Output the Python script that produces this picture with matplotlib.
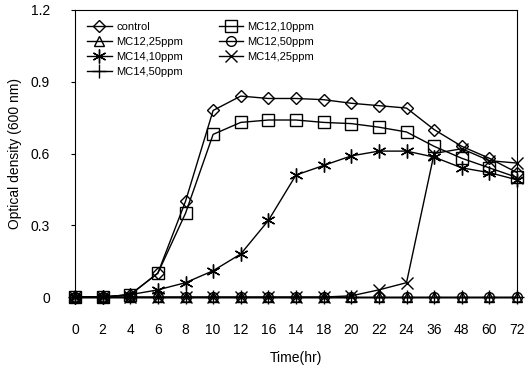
import matplotlib
matplotlib.use("Agg")
from matplotlib import pyplot as plt

plt.rcParams['font.family'] = ['Liberation Sans', 'DejaVu Sans']

# sampling times (hr) as printed on the axis (note the 16/14 order of the original)
time_labels = ['0', '2', '4', '6', '8', '10', '12', '16', '14', '18',
               '20', '22', '24', '36', '48', '60', '72']

control = [0.0, 0.0, 0.01, 0.10, 0.40, 0.78, 0.84, 0.83, 0.83, 0.825,
           0.81, 0.80, 0.79, 0.70, 0.63, 0.58, 0.52]
mc12_10 = [0.0, 0.0, 0.01, 0.10, 0.35, 0.68, 0.73, 0.74, 0.74, 0.73,
           0.725, 0.71, 0.69, 0.63, 0.58, 0.54, 0.50]
mc12_25 = [0.0] * 17
mc12_50 = [0.0] * 17
mc14_10 = [0.0, 0.0, 0.01, 0.03, 0.06, 0.11, 0.18, 0.32, 0.51, 0.55,
           0.59, 0.61, 0.61, 0.585, 0.54, 0.52, 0.49]
mc14_25 = [0.0, 0.0, 0.0, 0.0, 0.0, 0.0, 0.0, 0.0, 0.0, 0.0,
           0.005, 0.03, 0.06, 0.60, 0.62, 0.57, 0.56]
mc14_50 = [0.0] * 17

series = [
    ('control', control, 'D', 6),
    ('MC12,25ppm', mc12_25, '^', 7),
    ('MC14,10ppm', mc14_10, (6, 2, 0), 10),
    ('MC14,50ppm', mc14_50, '+', 10),
    ('MC12,10ppm', mc12_10, 's', 8),
    ('MC12,50ppm', mc12_50, 'o', 7),
    ('MC14,25ppm', mc14_25, 'x', 8),
]

fig = plt.figure(figsize=(5.3, 3.69), dpi=100)
ax = fig.add_axes([0.1415, 0.195, 0.834, 0.778])

x = list(range(len(time_labels)))
for label, vals, marker, ms in series:
    ax.plot(x, vals, color='black', linewidth=1.0, marker=marker,
            markersize=ms, markerfacecolor='none', markeredgecolor='black',
            markeredgewidth=1.0, label=label, clip_on=False)

ax.set_xlim(0, 16)
ax.set_ylim(0, 1.2)
ax.set_xticks(x)
ax.set_xticklabels(time_labels, fontsize=10)
ax.set_yticks([0, 0.3, 0.6, 0.9, 1.2])
ax.set_yticklabels(['0', '0.3', '0.6', '0.9', '1.2'], fontsize=10)
ax.tick_params(axis='x', length=0, pad=19)
ax.tick_params(axis='y', length=3, width=0.8, pad=15)

ax.set_xlabel('Time(hr)', fontsize=10, labelpad=10)
ax.set_ylabel('Optical density (600 nm)', fontsize=10, labelpad=6)

ax.legend(loc='upper left', ncol=2, fontsize=8, frameon=False,
          labelspacing=0.45, handlelength=2.2, handletextpad=0.4,
          columnspacing=3.2, borderaxespad=0.6, borderpad=0.5)

plt.savefig('out.png', dpi=100)
